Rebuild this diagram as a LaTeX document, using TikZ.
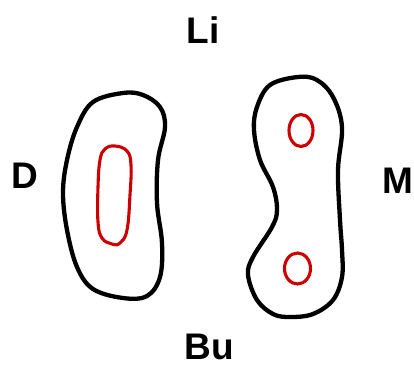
\documentclass[tikz,border=0pt]{standalone}
\usepackage{fontspec}
\setmainfont{Liberation Sans}
\definecolor{ringred}{HTML}{CC0000}
\begin{document}
\begin{tikzpicture}[x=1pt,y=-1pt,
  outline/.style={draw=black,line width=4.3pt,line join=round},
  core/.style={draw=ringred,line width=3.1pt},
  lbl/.style={font=\fontsize{37}{40}\selectfont\bfseries,anchor=base,inner sep=0pt}]
\useasboundingbox (0,0) rectangle (414,367);
% left shape
\draw[outline] plot[smooth cycle,tension=0.6] coordinates {
 (123,93) (143,95) (160,107) (165,127) (158,160) (157,203) (162,243)
 (160,277) (147,296) (123,298) (93,289) (77,267) (67,230) (63,193)
 (67,160) (77,127) (93,102)};
\draw[core] plot[smooth cycle,tension=0.7] coordinates {
 (115,146) (127,151) (131,165) (130,195) (127,230) (120,243) (112,244)
 (102,238) (98,222) (98,187) (100,160) (105,149)};
% right shape
\draw[outline] plot[smooth cycle,tension=0.6] coordinates {
 (298,77) (317,80) (333,97) (342,127) (338,170) (340,220) (342,250)
 (342,277) (333,300) (313,314) (290,317) (273,314) (257,300) (248,275)
 (253,257) (272,227) (277,210) (273,187) (260,160) (254,130) (257,107)
 (270,85)};
\draw[core] (301,130.5) ellipse[x radius=12, y radius=16];
\draw[core] (297.5,268.5) ellipse[x radius=13, y radius=15.5];
% labels
\node[lbl] (li) at (203,43) {Li};
\node[lbl] (d) at (25,188) {D};
\node[lbl] (m) at (398,193) {M};
\node[lbl] (bu) at (209,359) {Bu};
\end{tikzpicture}
\end{document}
